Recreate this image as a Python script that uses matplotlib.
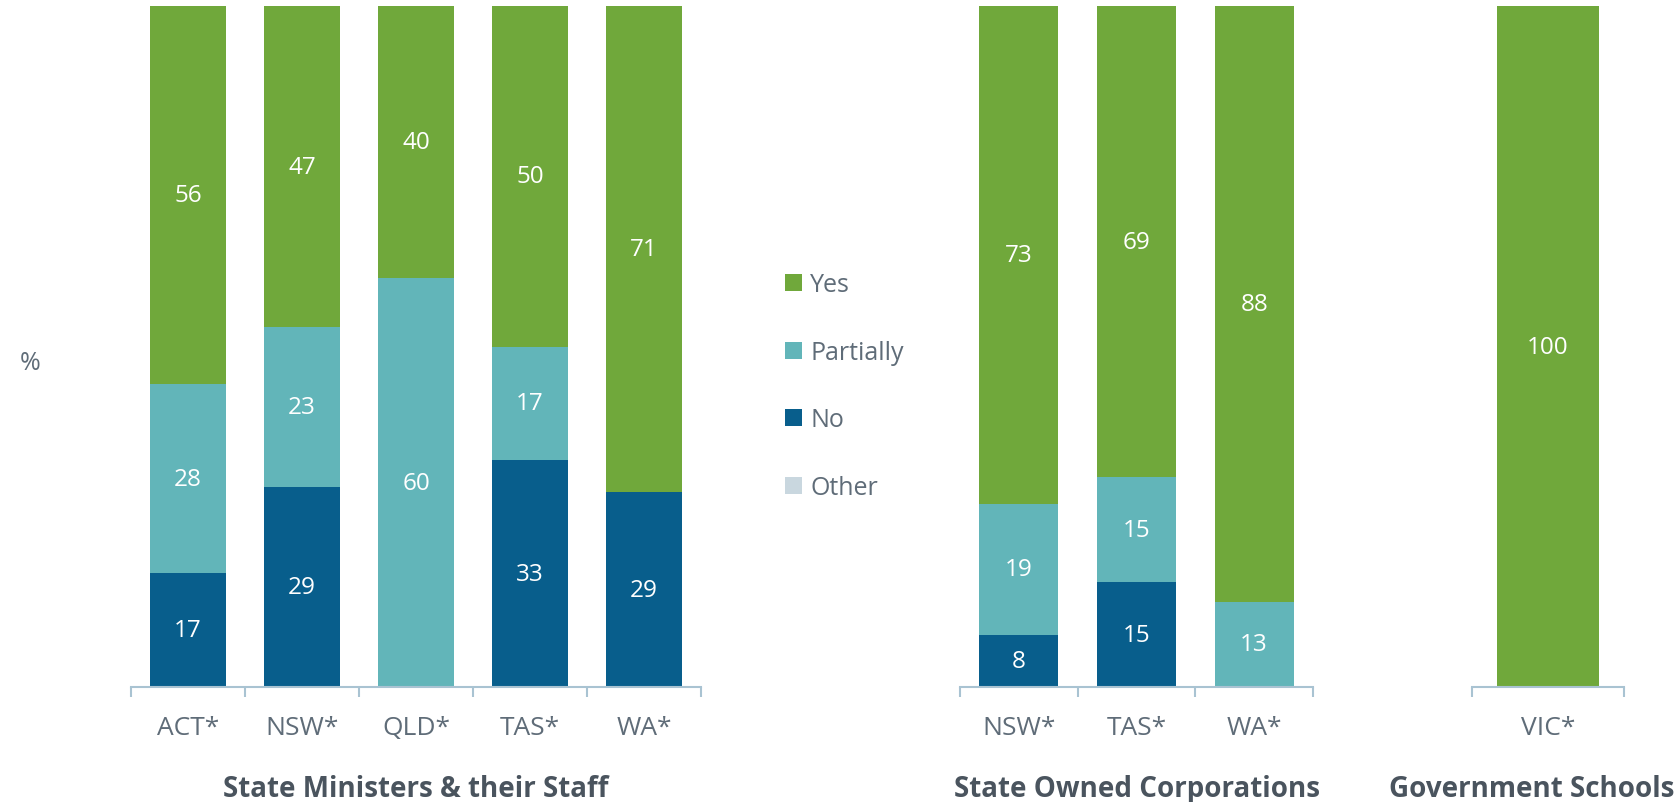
import matplotlib.pyplot as plt
from matplotlib.patches import Patch

plt.rcParams["font.family"] = ["Open Sans", "DejaVu Sans"]

W, H = 1676, 803

# chart data (percent of respondents)
series = ["Yes", "Partially", "No", "Other"]
colors = {"Yes": "#70a83b", "Partially": "#62b5b9", "No": "#085e8c", "Other": "#c9d7df"}

min_cats = ["ACT*", "NSW*", "QLD*", "TAS*", "WA*"]
min_no = [16.7, 29.4, 0, 33.3, 28.6]
min_part = [27.8, 23.4, 60.0, 16.7, 0]
min_yes = [55.6, 47.2, 40.0, 50.0, 71.4]
min_other = [0, 0, 0, 0, 0]

soc_cats = ["NSW*", "TAS*", "WA*"]
soc_no = [7.7, 15.4, 0]
soc_part = [19.2, 15.4, 12.5]
soc_yes = [73.1, 69.2, 87.5]
soc_other = [0, 0, 0]

sch_cats = ["VIC*"]
sch_no = [0]
sch_part = [0]
sch_yes = [100]
sch_other = [0]

panel_titles = ["State Ministers & their Staff", "State Owned Corporations", "Government Schools"]

AXIS_COL = "#a9c3d2"
TICK_COL = "#5f6c78"
TITLE_COL = "#4a545e"


def fmt(v):
    return "" if v == 0 else str(int(v + 0.5))


def draw_panel(ax, cats, no, part, yes, other):
    x = range(len(cats))
    bottom = [0] * len(cats)
    for name, vals in (("No", no), ("Partially", part), ("Yes", yes), ("Other", other)):
        bars = ax.bar(x, vals, 0.67, bottom=bottom, color=colors[name], label=name)
        ax.bar_label(bars, labels=[fmt(v) for v in vals], label_type="center",
                     color="white", fontsize=17.5)
        bottom = [b + v for b, v in zip(bottom, vals)]

    ax.set_xlim(-0.5, len(cats) - 0.5)
    ax.set_ylim(0, 100)
    for s in ("top", "left", "right"):
        ax.spines[s].set_visible(False)
    ax.spines["bottom"].set_color(AXIS_COL)
    ax.spines["bottom"].set_linewidth(1.5)
    ax.set_yticks([])
    ax.set_xticks(list(x))
    ax.set_xticklabels(cats, color=TICK_COL, fontsize=19)
    ax.tick_params(axis="x", which="major", length=0, pad=20)
    ax.set_xticks([i - 0.5 for i in range(len(cats) + 1)], minor=True)
    ax.tick_params(axis="x", which="minor", length=7, width=1.5, color=AXIS_COL)


fig = plt.figure(figsize=(W / 100, H / 100), dpi=100)

bot = (H - 688) / H
hgt = 681 / H
ax1 = fig.add_axes([131 / W, bot, 570 / W, hgt])
ax2 = fig.add_axes([960 / W, bot, 353 / W, hgt])
ax3 = fig.add_axes([1472 / W, bot, 152 / W, hgt])

draw_panel(ax1, min_cats, min_no, min_part, min_yes, min_other)
draw_panel(ax2, soc_cats, soc_no, soc_part, soc_yes, soc_other)
draw_panel(ax3, sch_cats, sch_no, sch_part, sch_yes, sch_other)

ty = 1 - 790 / H
fig.text(416 / W, ty, panel_titles[0], ha="center", va="center",
         fontsize=20, fontweight="bold", color=TITLE_COL)
fig.text(1137 / W, ty, panel_titles[1], ha="center", va="center",
         fontsize=20, fontweight="bold", color=TITLE_COL)
fig.text(1674 / W, ty, panel_titles[2], ha="right", va="center",
         fontsize=20, fontweight="bold", color=TITLE_COL)

fig.text(30 / W, 1 - 363 / H, "%", ha="center", va="center", fontsize=18, color=TICK_COL)

handles = [Patch(facecolor=colors[s], label=s) for s in series]
fig.legend(handles=handles, loc="upper left", bbox_to_anchor=(772 / W, 1 - 261 / H),
           frameon=False, fontsize=18, labelcolor=TICK_COL, borderpad=0,
           labelspacing=1.7, handlelength=0.68, handleheight=0.68, handletextpad=0.35)

fig.savefig("out.png", dpi=100)
